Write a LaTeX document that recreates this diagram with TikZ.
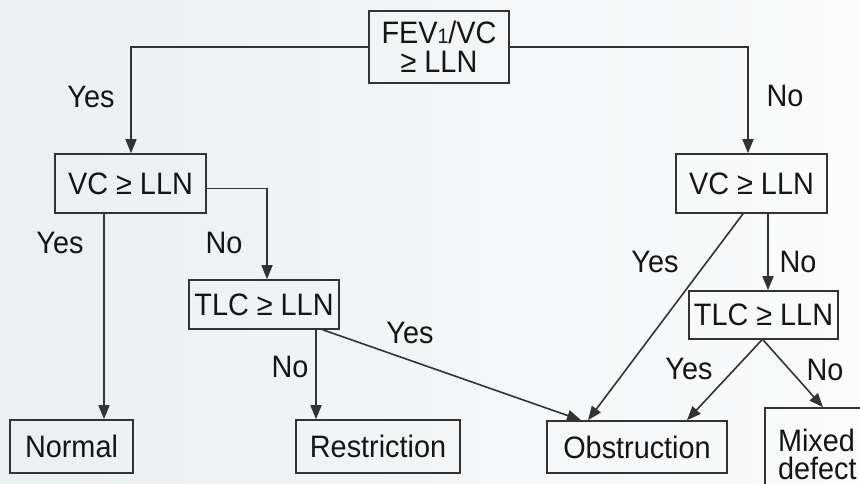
\documentclass[tikz,border=0pt]{standalone}
\usepackage{fontspec}
\setmainfont{Liberation Sans}[FakeStretch=0.93]
\usetikzlibrary{arrows.meta}
\definecolor{ink}{HTML}{151515}
\definecolor{edge}{HTML}{333333}
\definecolor{bgleft}{HTML}{EAEFF2}
\definecolor{bgmid}{HTML}{F6F7F8}
\definecolor{bgright}{HTML}{FBFBFB}
\begin{document}
\begin{tikzpicture}[x=1pt,y=-1pt,
  every node/.style={text=ink,font=\fontsize{31}{31}\selectfont},
  box/.style={draw=edge,line width=1.6pt,rectangle,inner sep=0pt},
  lbl/.style={inner sep=0pt},
  arr/.style={draw=edge,line width=1.6pt,-{Triangle[length=14pt,width=11pt]}},
  link/.style={draw=edge,line width=1.6pt}]
  % canvas and soft background
  \useasboundingbox (0,0) rectangle (860,484);
  \clip (0,0) rectangle (860,484);
  \shade[left color=bgleft,middle color=bgmid,right color=bgright] (0,0) rectangle (860,484);

  % decision boxes
  \node[box,minimum width=140pt,minimum height=72pt,align=center] (top) at (439,47)
    {FEV{\fontsize{21}{21}\selectfont 1}/VC\\[-2pt]≥ LLN};
  \node[box,minimum width=151pt,minimum height=59pt] (vcL) at (130.5,183.5) {VC ≥ LLN};
  \node[box,minimum width=151pt,minimum height=59pt] (vcR) at (751.5,183.5) {VC ≥ LLN};
  \node[box,minimum width=150pt,minimum height=49pt] (tlcL) at (264,304.5) {TLC ≥ LLN};
  \node[box,minimum width=149pt,minimum height=48pt] (tlcR) at (763.5,315) {TLC ≥ LLN};

  % outcome boxes
  \node[box,minimum width=123pt,minimum height=53pt] (normal) at (71.5,446.5) {Normal};
  \node[box,minimum width=164pt,minimum height=53pt] (restr) at (378,446.5) {Restriction};
  \node[box,minimum width=180pt,minimum height=52pt] (obstr) at (637,447) {Obstruction};
  \node[box,minimum width=110pt,minimum height=92pt,align=left,text width=84pt,
        font=\fontsize{31}{28}\selectfont] (mixed) at (820,454) {Mixed\\defect};

  % connectors
  \draw[arr] (top.west) -| ([xshift=0.5pt]vcL.north);
  \draw[arr] (top.east) -| ([xshift=-3.5pt]vcR.north);
  \draw[arr] ([yshift=-5pt]vcL.east) -| ([xshift=3pt]tlcL.north);
  \draw[arr] ([xshift=-26.5pt]vcL.south) -- ([xshift=32.5pt]normal.north);
  \draw[arr] ([xshift=52pt]tlcL.south) -- ([xshift=-62pt]restr.north);
  \draw[arr] ([xshift=-17pt]tlcL.south east) -- ([xshift=-56pt]obstr.north);
  \draw[arr] ([xshift=-8.5pt]vcR.south) -- ([xshift=-49pt]obstr.north);
  \draw[arr] ([xshift=16.5pt]vcR.south) -- ([xshift=4.5pt]tlcR.north);
  \draw[arr] ([xshift=-1.5pt]tlcR.south) -- ([xshift=50pt]obstr.north);
  \draw[arr] ([xshift=-0.5pt]tlcR.south) -- ([xshift=3pt]mixed.north);

  % branch labels
  \node[lbl] (y1) at (91,97) {Yes};
  \node[lbl] (n1) at (785,96) {No};
  \node[lbl] (y2) at (60,243) {Yes};
  \node[lbl] (n2) at (224,243) {No};
  \node[lbl] (y3) at (655,262) {Yes};
  \node[lbl] (n3) at (798,262) {No};
  \node[lbl] (y4) at (410,333) {Yes};
  \node[lbl] (n4) at (290,367) {No};
  \node[lbl] (y5) at (689,369) {Yes};
  \node[lbl] (n5) at (825,370) {No};
\end{tikzpicture}
\end{document}
